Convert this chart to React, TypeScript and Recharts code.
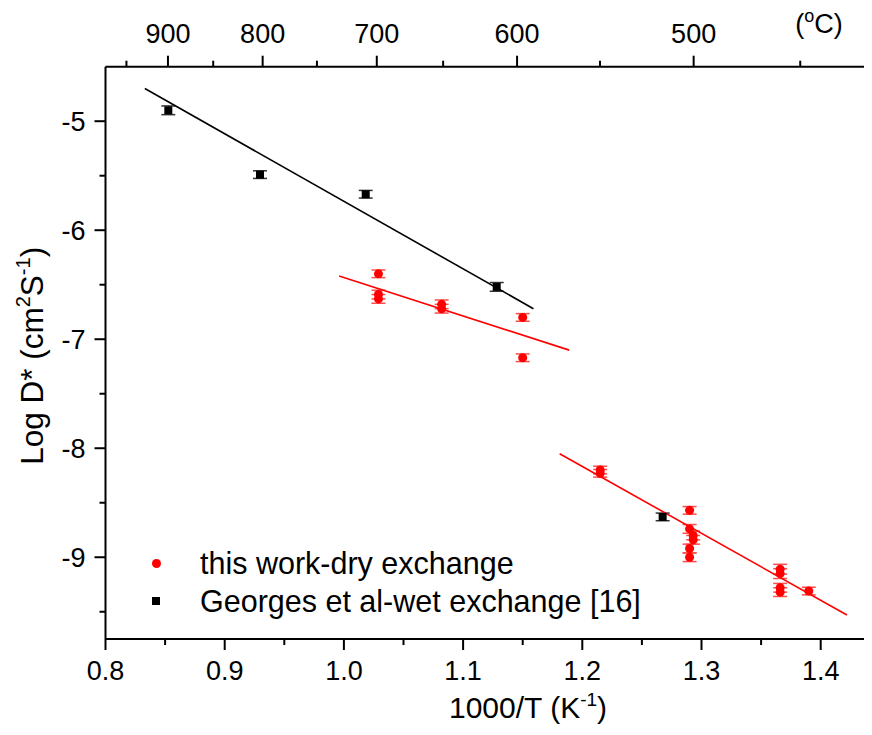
import React from 'react';
import { ScatterChart, Scatter, XAxis, YAxis, ErrorBar, Legend } from 'recharts';

const FONT = '"Liberation Sans", Arial, Helvetica, sans-serif';

// Georges et al. - wet exchange [16]
const georgesX = [0.8527, 0.9296, 1.0183, 1.1282, 1.2674];
const georgesY = [-4.9, -5.49, -5.67, -6.52, -8.63];
const georgesErr = [0.04, 0.035, 0.035, 0.04, 0.035];

// this work - dry exchange
const dryX = [1.029, 1.029, 1.029, 1.082, 1.082, 1.15, 1.15, 1.215, 1.215, 1.29, 1.29, 1.293, 1.293, 1.29, 1.29, 1.366, 1.366, 1.366, 1.366, 1.39];
const dryY = [-6.4, -6.59, -6.63, -6.68, -6.72, -6.8, -7.17, -8.2, -8.23, -8.57, -8.74, -8.8, -8.84, -8.92, -9.0, -9.11, -9.15, -9.28, -9.32, -9.31];
const dryErr = [0.035, 0.04, 0.04, 0.04, 0.04, 0.035, 0.035, 0.035, 0.035, 0.035, 0.04, 0.04, 0.04, 0.04, 0.04, 0.045, 0.045, 0.04, 0.04, 0.035];

// linear fits
const georgesFitX = [0.833, 1.159];
const georgesFitY = [-4.7, -6.72];
const dryFitHighX = [0.996, 1.189];
const dryFitHighY = [-6.42, -7.1];
const dryFitLowX = [1.181, 1.422];
const dryFitLowY = [-8.05, -9.53];

// ticks
const xTicks = [0.8, 0.85, 0.9, 0.95, 1.0, 1.05, 1.1, 1.15, 1.2, 1.25, 1.3, 1.35, 1.4];
const yTicks = [-9.5, -9, -8.5, -8, -7.5, -7, -6.5, -6, -5.5, -5];
const tempMajor = [900, 800, 700, 600, 500];
const tempMinor = [950, 850, 750, 650, 550, 450];

const X_DOMAIN: [number, number] = [0.8, 1.45];
const Y_DOMAIN: [number, number] = [-9.75, -4.5];

const zip = (xs: number[], ys: number[], es?: number[]) =>
  xs.map((x, i) => ({ x, y: ys[i], err: es ? es[i] : 0 }));

const georgesData = zip(georgesX, georgesY, georgesErr);
const dryData = zip(dryX, dryY, dryErr);
const georgesFit = zip(georgesFitX, georgesFitY);
const dryFitHigh = zip(dryFitHighX, dryFitHighY);
const dryFitLow = zip(dryFitLowX, dryFitLowY);

const topTicks = [...tempMajor, ...tempMinor].map((t) => 1000 / (t + 273.15));

const TICK_FS = 27;
const XTITLE_FS = 30;
const YTITLE_FS = 31.5;

const BottomTick = (props: any) => {
  const { x, y, payload } = props;
  const v = payload.value as number;
  const major = Math.abs(v * 10 - Math.round(v * 10)) < 1e-6;
  return (
    <g>
      <line x1={x} y1={y} x2={x} y2={y + (major ? 11 : 6)} stroke="#000" strokeWidth={2} />
      {major && (
        <text x={x} y={y + 41} textAnchor="middle" fontSize={TICK_FS} fontFamily={FONT} fill="#000">
          {v.toFixed(1)}
        </text>
      )}
    </g>
  );
};

const TopTick = (props: any) => {
  const { x, y, payload } = props;
  const v = payload.value as number;
  const t = Math.round(1000 / v - 273.15);
  const major = t % 100 === 0;
  return (
    <g>
      <line x1={x} y1={y} x2={x} y2={y - (major ? 11 : 6)} stroke="#000" strokeWidth={2} />
      {major && (
        <text x={x} y={y - 24} textAnchor="middle" fontSize={TICK_FS} fontFamily={FONT} fill="#000">
          {t}
        </text>
      )}
    </g>
  );
};

const LeftTick = (props: any) => {
  const { x, y, payload } = props;
  const v = payload.value as number;
  const major = Math.abs(v - Math.round(v)) < 1e-6;
  return (
    <g>
      <line x1={x} y1={y} x2={x - (major ? 11 : 6)} y2={y} stroke="#000" strokeWidth={2} />
      {major && (
        <text x={x - 20} y={y} dy="0.35em" textAnchor="end" fontSize={TICK_FS} fontFamily={FONT} fill="#000">
          {String(v)}
        </text>
      )}
    </g>
  );
};

const frac = (v: number) => (v - X_DOMAIN[0]) / (X_DOMAIN[1] - X_DOMAIN[0]);

const BottomTitle = (props: any) => {
  const vb = props.viewBox || {};
  const cx = vb.x + frac(1.1545) * vb.width;
  return (
    <text x={cx} y={vb.y + 79} textAnchor="middle" fontSize={XTITLE_FS} fontFamily={FONT} fill="#000">
      <tspan>1000/T (K</tspan>
      <tspan dy={-12} fontSize={19}>-1</tspan>
      <tspan dy={12}>)</tspan>
    </text>
  );
};

const TopTitle = (props: any) => {
  const vb = props.viewBox || {};
  const cx = vb.x + frac(1.3986) * vb.width;
  return (
    <text x={cx} y={vb.y + vb.height - 34} textAnchor="middle" fontSize={TICK_FS} fontFamily={FONT} fill="#000">
      <tspan>(</tspan>
      <tspan dy={-11} fontSize={18}>o</tspan>
      <tspan dy={11}>C)</tspan>
    </text>
  );
};

const LeftTitle = (props: any) => {
  const vb = props.viewBox || {};
  const cx = vb.x + 6.5;
  const cy = vb.y + vb.height / 2 + 3;
  return (
    <text
      x={cx}
      y={cy}
      transform={`rotate(-90 ${cx} ${cy})`}
      textAnchor="middle"
      dy="0.35em"
      fontSize={YTITLE_FS}
      fontFamily={FONT}
      fill="#000"
    >
      <tspan>Log D* (cm</tspan>
      <tspan dy={-13} fontSize={20}>2</tspan>
      <tspan dy={13}>S</tspan>
      <tspan dy={-13} fontSize={20}>-1</tspan>
      <tspan dy={13}>)</tspan>
    </text>
  );
};

const RedDot = (p: any) => <circle cx={p.cx} cy={p.cy} r={4.5} fill="#ff0000" />;
const BlackSquare = (p: any) => <rect x={p.cx - 4} y={p.cy - 4} width={8} height={8} fill="#000" />;
const NoShape = () => <g />;

const LegendBox = () => (
  <div style={{ fontFamily: FONT, fontSize: 30.5, color: '#000', lineHeight: '38px' }}>
    <div style={{ display: 'flex', alignItems: 'center', height: 38 }}>
      <div style={{ width: 16, display: 'flex', justifyContent: 'center' }}>
        <div style={{ width: 9, height: 9, borderRadius: '50%', background: '#ff0000' }} />
      </div>
      <span style={{ marginLeft: 36, whiteSpace: 'nowrap' }}>this work-dry exchange</span>
    </div>
    <div style={{ display: 'flex', alignItems: 'center', height: 38 }}>
      <div style={{ width: 16, display: 'flex', justifyContent: 'center' }}>
        <div style={{ width: 8, height: 8, background: '#000' }} />
      </div>
      <span style={{ marginLeft: 36, whiteSpace: 'nowrap' }}>Georges et al-wet exchange [16]</span>
    </div>
  </div>
);

export default function App() {
  return (
    <div style={{ width: 864, height: 735, marginTop: -8, overflow: 'hidden' }}>
      <ScatterChart
        width={880}
        height={733}
        margin={{ top: 26.7, right: 7.7, bottom: 19, left: 17.5 }}
      >
        <XAxis
          xAxisId="bottom"
          type="number"
          dataKey="x"
          orientation="bottom"
          domain={X_DOMAIN}
          allowDataOverflow
          ticks={xTicks}
          interval={0}
          height={75}
          tickSize={0}
          tickMargin={0}
          tickLine={false}
          axisLine={{ stroke: '#000', strokeWidth: 2 }}
          tick={<BottomTick />}
          label={{ content: <BottomTitle /> }}
        />
        <XAxis
          xAxisId="top"
          type="number"
          dataKey="x"
          orientation="top"
          domain={X_DOMAIN}
          allowDataOverflow
          ticks={topTicks}
          interval={0}
          height={40}
          tickSize={0}
          tickMargin={0}
          tickLine={false}
          axisLine={{ stroke: '#000', strokeWidth: 2 }}
          tick={<TopTick />}
          label={{ content: <TopTitle /> }}
        />
        <YAxis
          type="number"
          dataKey="y"
          domain={Y_DOMAIN}
          allowDataOverflow
          ticks={yTicks}
          interval={0}
          width={80}
          tickSize={0}
          tickMargin={0}
          tickLine={false}
          axisLine={{ stroke: '#000', strokeWidth: 2 }}
          tick={<LeftTick />}
          label={{ content: <LeftTitle /> }}
        />
        <Scatter
          xAxisId="bottom"
          data={georgesFit}
          shape={<NoShape />}
          line={{ stroke: '#000', strokeWidth: 1.6 }}
          isAnimationActive={false}
          legendType="none"
        />
        <Scatter
          xAxisId="bottom"
          data={dryFitHigh}
          shape={<NoShape />}
          line={{ stroke: '#ff0000', strokeWidth: 1.6 }}
          isAnimationActive={false}
          legendType="none"
        />
        <Scatter
          xAxisId="bottom"
          data={dryFitLow}
          shape={<NoShape />}
          line={{ stroke: '#ff0000', strokeWidth: 1.6 }}
          isAnimationActive={false}
          legendType="none"
        />
        <Scatter
          xAxisId="bottom"
          name="Georges et al-wet exchange [16]"
          data={georgesData}
          shape={<BlackSquare />}
          isAnimationActive={false}
        >
          <ErrorBar dataKey="err" direction="y" width={7} stroke="#333" strokeWidth={1.5} isAnimationActive={false} />
        </Scatter>
        <Scatter
          xAxisId="bottom"
          name="this work-dry exchange"
          data={dryData}
          shape={<RedDot />}
          isAnimationActive={false}
        >
          <ErrorBar dataKey="err" direction="y" width={7} stroke="#ff4d4d" strokeWidth={1.5} isAnimationActive={false} />
        </Scatter>
        <Legend
          layout="vertical"
          align="center"
          verticalAlign="middle"
          wrapperStyle={{ left: 140, top: 544, width: 600 }}
          content={<LegendBox />}
        />
      </ScatterChart>
    </div>
  );
}
